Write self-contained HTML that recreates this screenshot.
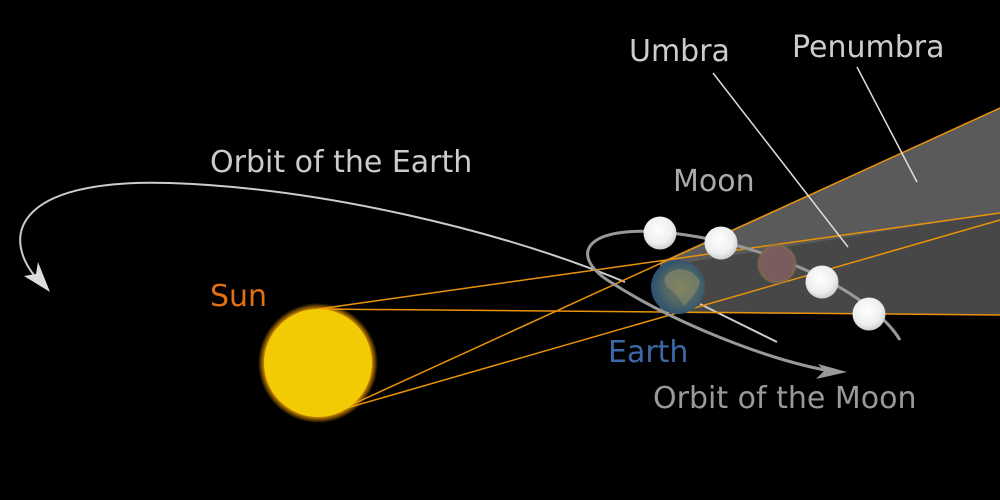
<!DOCTYPE html>
<html><head><meta charset="utf-8"><style>
html,body{margin:0;padding:0;background:#000;}
svg{display:block;}
text{font-family:"DejaVu Sans","Liberation Sans",sans-serif;font-size:30px;}
</style></head><body>
<svg width="1000" height="500" viewBox="0 0 1000 500" xmlns="http://www.w3.org/2000/svg">
<defs>
<radialGradient id="sg" cx="50%" cy="50%" r="50%">
<stop offset="0.88" stop-color="#f5a000"/><stop offset="1" stop-color="#f5a000" stop-opacity="0"/>
</radialGradient>
<radialGradient id="mg" cx="45%" cy="40%" r="60%">
<stop offset="0" stop-color="#ffffff"/><stop offset="0.7" stop-color="#eeeeee"/><stop offset="1" stop-color="#cfcfcf"/>
</radialGradient>
<radialGradient id="eg" cx="55%" cy="50%" r="55%">
<stop offset="0" stop-color="#7a7a5a"/><stop offset="0.6" stop-color="#4a6468"/><stop offset="1" stop-color="#2d4f70"/>
</radialGradient>
</defs>
<rect width="1000" height="500" fill="#000"/>
<polygon points="660,262 1000,108 1000,315 660,313" fill="#5a5a5a"/>
<polygon points="690,262 1000,213 1000,315 690,313" fill="#474747"/>
<path d="M40,282 C0,240 10,178 170,183 C320,188 500,230 625,282" fill="none" stroke="#cccccc" stroke-width="2"/>
<line x1="700" y1="304" x2="777" y2="342" stroke="#cccccc" stroke-width="2"/>
<polygon points="50,292 24,276 36,274 38,262" fill="#dddddd"/>
<g stroke="#e8930a" stroke-width="1.5" fill="none">
<line x1="318" y1="309" x2="1000" y2="213"/>
<line x1="318" y1="309" x2="1000" y2="315"/>
<line x1="340" y1="410" x2="1000" y2="108"/>
<line x1="333" y1="412" x2="1000" y2="220"/>
</g>
<path d="M900,340 C870,290 760,240 660,232 C580,226 570,258 612,283 C670,320 760,358 830,371" fill="none" stroke="#999999" stroke-width="3"/>
<polygon points="847,372 818,364 824,371 816,379" fill="#999999"/>
<circle cx="318" cy="363" r="60" fill="url(#sg)"/>
<circle cx="318" cy="363" r="54" fill="#f2cb05"/>
<circle cx="678" cy="287" r="27" fill="url(#eg)"/>
<path d="M670,272 C680,266 695,270 700,282 C698,292 690,300 684,306 C680,300 676,292 668,288 C662,282 664,275 670,272Z" fill="#8a8a68" opacity="0.6"/>
<circle cx="660" cy="233" r="16.5" fill="url(#mg)"/>
<circle cx="721" cy="243" r="16.5" fill="url(#mg)"/>
<circle cx="777" cy="264" r="20" fill="#7a6e55" opacity="0.5"/>
<circle cx="777" cy="264" r="18" fill="#7a5c5c" stroke="#8a6a4a" stroke-width="1"/>
<circle cx="822" cy="282" r="16.5" fill="url(#mg)"/>
<circle cx="869" cy="314" r="16.5" fill="url(#mg)"/>
<line x1="713" y1="73" x2="848" y2="247" stroke="#dddddd" stroke-width="1.5"/>
<line x1="857" y1="67" x2="917" y2="182" stroke="#dddddd" stroke-width="1.5"/>
<text x="629" y="61" fill="#cccccc">Umbra</text>
<text x="792" y="57" fill="#cccccc">Penumbra</text>
<text x="673" y="191" fill="#aaaaaa">Moon</text>
<text x="210" y="172" fill="#cccccc">Orbit of the Earth</text>
<text x="210" y="306" fill="#e07010">Sun</text>
<text x="608" y="362" fill="#3d68a8">Earth</text>
<text x="653" y="408" fill="#999999">Orbit of the Moon</text>
</svg>
</body></html>
